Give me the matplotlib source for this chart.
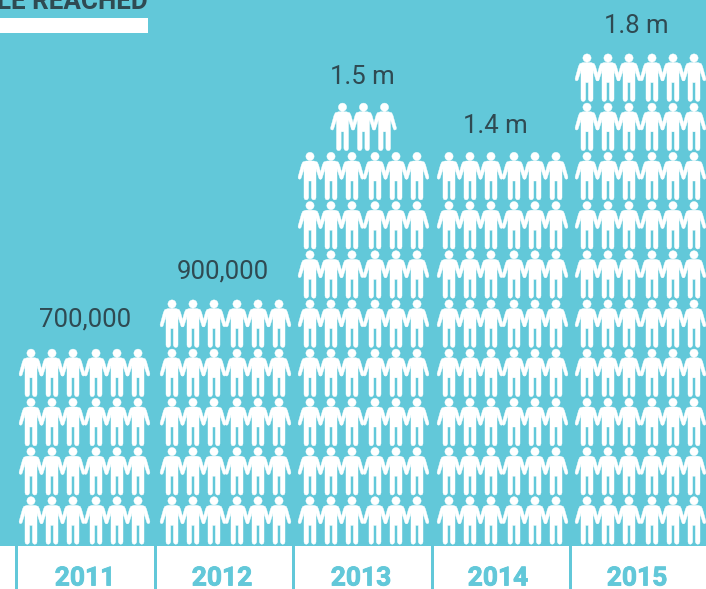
import matplotlib
matplotlib.use("Agg")
import matplotlib.pyplot as plt
import matplotlib.patheffects as pe
from matplotlib.path import Path
from matplotlib.patches import PathPatch, Rectangle
from matplotlib.transforms import Affine2D

years = ["2011", "2012", "2013", "2014", "2015"]
value_labels = ["700,000", "900,000", "1.5 m", "1.4 m", "1.8 m"]
people_icons = [24, 30, 51, 48, 60]

BG = "#62C8D9"
DARK = "#2F4A52"
W, H = 706, 589
group_left = [31, 172, 310, 449, 587]
col_offset = [0, 21, 42, 65, 86, 107]
year_center = [85, 222, 361, 498, 637]
value_center = [85, 223, 362.7, 495, 636.5]
value_baseline = [326, 278, 84, 133, 33]
dividers = [16, 155, 293.5, 432, 570.5]
PER_ROW = 6
ROW_PITCH = 49.2
BOTTOM_HEAD_Y = 500.8

half = [(0, 4.6), (4.0, 4.6), (7.2, 5.6), (8.5, 8.3), (11.9, 20.6), (11.6, 22.3), (10.1, 22.9), (9.0, 22.0),
        (6.0, 12.6), (6.0, 41.2), (5.4, 42.9), (3.8, 43.5), (2.2, 42.9), (1.4, 41.2), (1.4, 24.6), (0, 24.6)]
outline = half + [(-x, y) for x, y in reversed(half[:-1])][:-1]
body = Path(outline + [outline[0]], closed=True)
head = Path.circle((0, 0), 4.1)
person = Path.make_compound_path(body, head)

fig = plt.figure(figsize=(W / 100, H / 100), dpi=100, facecolor=BG)
ax = fig.add_axes([0, 0, 1, 1])
ax.set_xlim(0, W)
ax.set_ylim(H, 0)
ax.axis("off")

for left, n in zip(group_left, people_icons):
    for i in range(n):
        row, col = divmod(i, PER_ROW)
        in_row = min(PER_ROW, n - row * PER_ROW)
        shift = (col_offset[-1] - col_offset[in_row - 1]) / 2
        t = Affine2D().translate(left + shift + col_offset[col], BOTTOM_HEAD_Y - row * ROW_PITCH)
        ax.add_patch(PathPatch(person.transformed(t), fc="white", ec="white", lw=0.3))

ax.add_patch(Rectangle((0, 545.7), W, H - 545.7, fc="white", ec="none"))
for x in dividers:
    ax.add_patch(Rectangle((x - 1.5, 545.7), 3.0, H - 545.7, fc=BG, ec="none"))

ax.add_patch(Rectangle((0, 18), 148, 15, fc="white", ec="none"))
ax.text(148, 9, "LE REACHED", ha="right", va="baseline", family="Roboto", weight="bold",
        fontsize=18.7, color=DARK)

for x, y, label in zip(value_center, value_baseline, value_labels):
    ax.text(x, y, label, ha="center", va="baseline", family="Roboto", fontsize=18.5, color=DARK)
for x, label in zip(year_center, years):
    ax.text(x, 585.5, label, ha="center", va="baseline", family="Roboto", weight="bold", fontsize=19, color=BG,
            path_effects=[pe.withStroke(linewidth=0.6, foreground=BG)])

fig.savefig("out.png", dpi=100, facecolor=BG)
